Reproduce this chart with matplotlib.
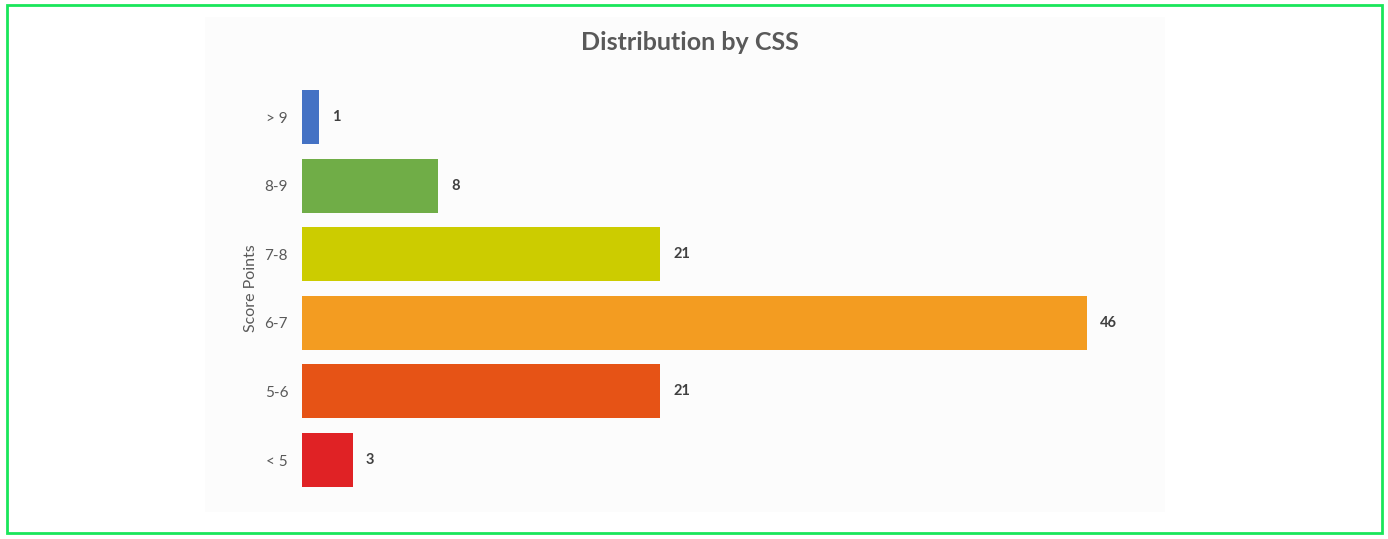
import matplotlib.pyplot as plt
from matplotlib.patches import Rectangle

plt.rcParams['font.family'] = ['Lato', 'DejaVu Sans']

# data (bottom to top)
categories = ['< 5', '5-6', '6-7', '7-8', '8-9', '> 9']
counts = [3, 21, 46, 21, 8, 1]
bar_colors = ['#E02225', '#E65316', '#F39C21', '#CCCC00', '#70AD47', '#4472C4']

fig = plt.figure(figsize=(13.88, 5.39), dpi=100)
W, H = 1388, 539

# faint panel behind the chart
fig.patches.append(Rectangle((205 / W, 1 - 512 / H), 960 / W, 495 / H,
                             transform=fig.transFigure, facecolor='#fcfcfc',
                             edgecolor='none', zorder=-2))
# green outer border
fig.patches.append(Rectangle((7 / W, 1 - 533 / H), 1375 / W, 528 / H,
                             transform=fig.transFigure, facecolor='none',
                             edgecolor='#19e65a', linewidth=2, zorder=5))

ax = fig.add_axes([302 / W, 1 - 494.3 / H, 863 / W, 411.6 / H])
ax.set_facecolor('none')
ax.set_zorder(1)
ys = range(len(categories))
ax.barh(ys, counts, height=0.79, color=bar_colors)
ax.set_xlim(0, 863 / 17.06)
ax.set_ylim(-0.5, 5.5)

for y, v in zip(ys, counts):
    ax.text(v + 0.75, y, str(v), va='center', ha='left', fontsize=10.5,
            fontweight='bold', color='#404040')

ax.set_yticks(list(ys))
ax.set_yticklabels(categories, fontsize=11, color='#595959')
ax.tick_params(axis='y', length=0, pad=10)
ax.set_xticks([])
for s in ax.spines.values():
    s.set_visible(False)
ax.set_ylabel('Score Points', fontsize=11.5, color='#595959', labelpad=5)

fig.text(690 / W, 1 - 43 / H, 'Distribution by CSS', ha='center', va='center',
         fontsize=18, fontweight='bold', color='#595959')

fig.savefig('out.png', dpi=100, facecolor='white')
